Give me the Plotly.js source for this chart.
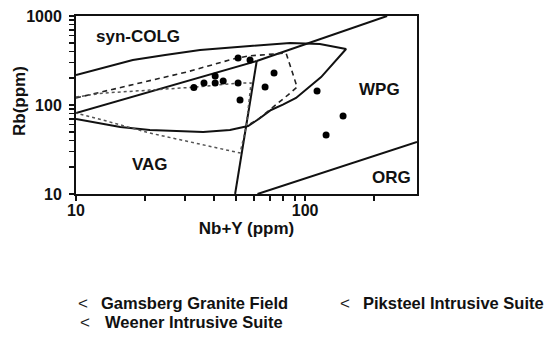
<!DOCTYPE html>
<html>
<head>
<meta charset="utf-8">
<script src="https://cdn.plot.ly/plotly-3.0.1.min.js"></script>
<style>html,body{margin:0;padding:0;background:#fff;}#chart{width:554px;height:342px;}</style>
</head>
<body>
<div id="chart"></div>
<script>
// ---- sample data (Nb+Y vs Rb, ppm) ----
const sampleNbY = [51.0, 57.5, 32.7, 36.2, 40.5, 40.5, 43.9, 51.0, 52.0, 66.9, 73.2, 112.8, 146.5, 123.5];
const sampleRb  = [337, 320, 157, 177, 212, 177, 186, 177, 114, 159, 229, 144, 75.2, 46.0];

// ---- discrimination boundaries ----
const vagSynX = [10, 61.5];          const vagSynY = [81, 312];
const synWpgX = [61.5, 228];         const synWpgY = [312, 1000];
const vagWpgX = [49.5, 61.5];        const vagWpgY = [10, 312];
const orgWpgX = [62, 308];           const orgWpgY = [10, 38.4];

// ---- solid field (lens) outline ----
const lensX = [10, 13.4, 17.7, 24.5, 34.8, 57.5, 86.0, 116, 151, 117.5, 100, 91.3, 80, 71, 63, 56.4, 47, 35.9, 21, 15.6, 10];
const lensY = [217, 267, 320, 365, 415, 460, 497, 484, 426, 206, 147, 120, 101, 87.9, 70, 58.1, 52.4, 49.7, 52.4, 56.6, 69.6];

// ---- dashed field outline ----
const dashX = [10, 17.7, 30.5, 48.5, 56.4, 82.6, 92.3, 84.3, 71, 62.3, 56.4];
const dashY = [120, 168, 235, 329, 355, 384, 159, 130, 90, 69, 59.6];

// ---- dotted field outline ----
const dotX = [10, 13.1, 21, 33.1, 52, 58.1, 57, 55.3, 52, 21, 13.1, 10];
const dotY = [123, 136, 147, 159, 177, 177, 114, 56.6, 28.9, 48.4, 67.8, 81.3];

// ---- ticks & labels ----
const xMajor = [10, 100];
const xMinor = [20, 30, 40, 50, 60, 70, 80, 90, 200];
const yMajor = [10, 100, 1000];
const yMinor = [20, 30, 40, 50, 60, 70, 80, 90, 200, 300, 400, 500, 600, 700, 800, 900];
const fieldLabels = ['syn-COLG', 'WPG', 'VAG', 'ORG'];
const legendLabels = ['Gamsberg Granite Field', 'Weener Intrusive Suite', 'Piksteel Intrusive Suite'];
const legendSymbols = ['<', '<', '<'];
const xTitle = 'Nb+Y (ppm)';
const yTitle = 'Rb(ppm)';

const FONT = 'Liberation Sans, Arial, Helvetica, sans-serif';
const solid = {color: '#111', width: 2};

function ln(x, y, line) {
  return {type: 'scatter', mode: 'lines', x: x, y: y, line: line, hoverinfo: 'skip', showlegend: false};
}

const traces = [
  ln(vagSynX, vagSynY, solid),
  ln(synWpgX, synWpgY, solid),
  ln(vagWpgX, vagWpgY, solid),
  ln(orgWpgX, orgWpgY, solid),
  ln(lensX, lensY, {color: '#111', width: 2}),
  ln(dashX, dashY, {color: '#222', width: 1.6, dash: '5px,4px'}),
  ln(dotX, dotY, {color: '#555', width: 1.5, dash: 'dot'}),
  {type: 'scatter', mode: 'markers', x: sampleNbY, y: sampleRb,
   marker: {color: '#000', size: 7}, showlegend: false, hoverinfo: 'x+y'}
];

const W = 341, H = 178, L = 76, T = 16;
function px(x) { return (x - L) / W; }
function py(y) { return (T + H - y) / H; }

const fieldPos = [[138, 37], [379, 89], [150, 164], [391, 177]];
const annotations = fieldLabels.map((t, i) => ({
  text: t, xref: 'paper', yref: 'paper', x: px(fieldPos[i][0]), y: py(fieldPos[i][1]),
  xanchor: 'center', yanchor: 'middle', showarrow: false,
  font: {family: FONT, size: 17, color: '#111', weight: 'bold'}
}));

annotations.push({text: yTitle, xref: 'paper', yref: 'paper', x: px(20), y: py(101),
  xanchor: 'center', yanchor: 'middle', textangle: -90, showarrow: false,
  font: {family: FONT, size: 17, color: '#111', weight: 'bold'}});

const legSym = [[83, 303], [85, 322], [345, 303]];
const legTxt = [[99, 303], [103, 322], [361, 303]];
legendLabels.forEach((t, i) => {
  annotations.push({text: legendSymbols[i], xref: 'paper', yref: 'paper',
    x: px(legSym[i][0]), y: py(legSym[i][1]), xanchor: 'center', yanchor: 'middle',
    showarrow: false, font: {family: FONT, size: 17, color: '#222'}});
  annotations.push({text: t, xref: 'paper', yref: 'paper',
    x: px(legTxt[i][0]), y: py(legTxt[i][1]), xanchor: 'left', yanchor: 'middle',
    showarrow: false, font: {family: FONT, size: 16.5, color: '#111', weight: 'bold'}});
});

const tickFont = {family: FONT, size: 16, color: '#111', weight: 'bold'};
const xTicks = xMajor.concat(xMinor);
const yTicks = yMajor.concat(yMinor);

const layout = {
  width: 554, height: 342,
  margin: {l: L, r: 554 - L - W, t: T, b: 342 - T - H, pad: 0},
  paper_bgcolor: '#fff', plot_bgcolor: '#fff',
  showlegend: false,
  xaxis: {
    type: 'log', range: [1, Math.log10(308)],
    showline: true, mirror: true, linecolor: '#111', linewidth: 2,
    showgrid: false, zeroline: false,
    tickmode: 'array', tickvals: xTicks,
    ticktext: xTicks.map(v => xMajor.includes(v) ? String(v) : ''),
    ticks: 'outside', ticklen: 5, tickwidth: 2, tickcolor: '#111',
    ticklabelstandoff: -4,
    tickfont: tickFont,
    title: {text: xTitle, font: {family: FONT, size: 17, color: '#111', weight: 'bold'}, standoff: 4},
    fixedrange: true
  },
  yaxis: {
    type: 'log', range: [1, 3],
    showline: true, mirror: true, linecolor: '#111', linewidth: 2,
    showgrid: false, zeroline: false,
    tickmode: 'array', tickvals: yTicks,
    ticktext: yTicks.map(v => yMajor.includes(v) ? String(v) : ''),
    ticks: 'outside', ticklen: 5, tickwidth: 1.5, tickcolor: '#111',
    ticklabelstandoff: 4,
    tickfont: tickFont,
    fixedrange: true
  },
  annotations: annotations
};

Plotly.newPlot('chart', traces, layout, {displayModeBar: false, staticPlot: true});
</script>
</body>
</html>
